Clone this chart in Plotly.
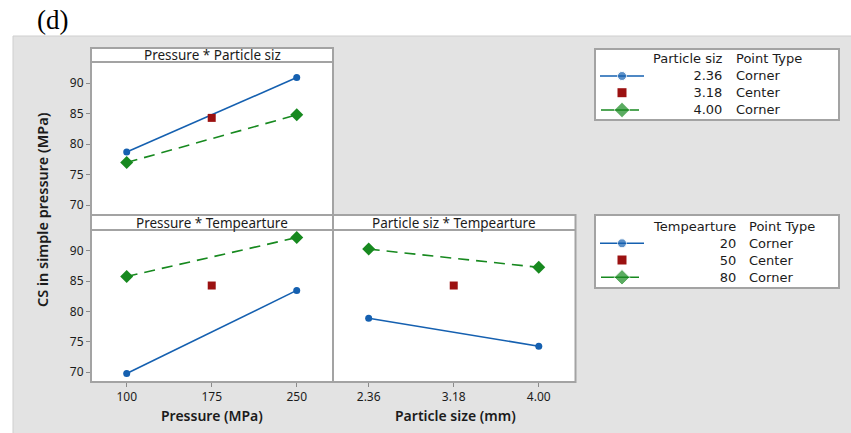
import plotly.graph_objects as go

W, H = 851, 433

# Factor levels
pressure_levels = [100, 250]
pressure_center = [175]
size_levels = [2.36, 4.00]
size_center = [3.18]

# Mean CS (MPa) for each interaction
ps_size236 = [78.7, 90.9]      # Pressure x Particle size, size 2.36
ps_size400 = [77.0, 84.8]      # Pressure x Particle size, size 4.00
pt_temp20 = [69.8, 83.5]       # Pressure x Temperature, T 20
pt_temp80 = [85.8, 92.2]       # Pressure x Temperature, T 80
st_temp20 = [78.9, 74.3]       # Particle size x Temperature, T 20
st_temp80 = [90.3, 87.3]       # Particle size x Temperature, T 80
center_value = [84.3]

y_ticks = [70, 75, 80, 85, 90]
p_ticks = [100, 175, 250]
s_ticks = [2.36, 3.18, 4.00]
s_ticklabels = ["2.36", "3.18", "4.00"]

legend1_header = ["Particle siz", "Point Type"]
legend1_levels = ["2.36", "3.18", "4.00"]
legend2_header = ["Tempearture", "Point Type"]
legend2_levels = ["20", "50", "80"]
point_types = ["Corner", "Center", "Corner"]

BLUE = "#1560b0"
GREEN = "#17891f"
RED = "#9b1111"
FRAME = "#a3a3a3"
BG = "#e3e3e3"
TXT = "#1b1b1b"
FONT = "Noto Sans"
LEG_FONT = "DejaVu Sans"


def px(x):
    return x / W


def py(y):
    return 1 - y / H


fig = go.Figure()


# Corner-point lines
def corner_pair(xv, ya, yb, xa, ya_ax):
    fig.add_trace(go.Scatter(
        x=xv, y=ya, mode="lines+markers", xaxis=xa, yaxis=ya_ax,
        line=dict(color=BLUE, width=1.6),
        marker=dict(symbol="circle", size=7, color=BLUE),
        showlegend=False, hoverinfo="x+y"))
    fig.add_trace(go.Scatter(
        x=xv, y=yb, mode="lines+markers", xaxis=xa, yaxis=ya_ax,
        line=dict(color=GREEN, width=1.6, dash="11px,7px"),
        marker=dict(symbol="diamond", size=10, color=GREEN),
        showlegend=False, hoverinfo="x+y"))


def center_point(xv, xa, ya_ax):
    fig.add_trace(go.Scatter(
        x=xv, y=center_value, mode="markers", xaxis=xa, yaxis=ya_ax,
        marker=dict(symbol="square", size=8, color=RED),
        showlegend=False, hoverinfo="x+y"))


corner_pair(pressure_levels, ps_size236, ps_size400, "x", "y")
center_point(pressure_center, "x", "y")
corner_pair(pressure_levels, pt_temp20, pt_temp80, "x2", "y2")
center_point(pressure_center, "x2", "y2")
corner_pair(size_levels, st_temp20, st_temp80, "x3", "y3")
center_point(size_center, "x3", "y3")

# Panel geometry in pixels
LX0, LX1, RX1 = 91, 333, 575.5
T_STRIP, T_PLOT0, T_PLOT1 = 48, 62, 215
B_STRIP, B_PLOT0, B_PLOT1 = 215, 230, 382

y_range = [68.4, 93.45]
p_range = [68.5, 282]
s_range = [2.016, 4.354]

axis_common = dict(showgrid=False, zeroline=False, showline=False,
                   tickfont=dict(family=FONT, size=12, color=TXT),
                   ticklen=4, tickcolor="#8a8a8a", tickwidth=1)

fig.update_layout(
    xaxis=dict(domain=[px(LX0), px(LX1)], range=p_range, anchor="y",
               showticklabels=False, ticks="", **axis_common),
    yaxis=dict(domain=[py(T_PLOT1), py(T_PLOT0)], range=y_range, anchor="x",
               tickvals=y_ticks, ticks="outside", **axis_common),
    xaxis2=dict(domain=[px(LX0), px(LX1)], range=p_range, anchor="y2",
                tickvals=p_ticks, ticks="outside", **axis_common),
    yaxis2=dict(domain=[py(B_PLOT1), py(B_PLOT0)], range=y_range, anchor="x2",
                tickvals=y_ticks, ticks="outside", **axis_common),
    xaxis3=dict(domain=[px(LX1), px(RX1)], range=s_range, anchor="y3",
                tickvals=s_ticks, ticktext=s_ticklabels, ticks="outside", **axis_common),
    yaxis3=dict(domain=[py(B_PLOT1), py(B_PLOT0)], range=y_range, anchor="x3",
                showticklabels=False, showgrid=False, zeroline=False, ticks=""),
    # overlay axis in pixel units for legend keys
    xaxis4=dict(domain=[0, 1], range=[0, W], visible=False, anchor="y4", fixedrange=True),
    yaxis4=dict(domain=[0, 1], range=[H, 0], visible=False, anchor="x4", fixedrange=True),
)

shapes = []
# grey backdrop
shapes.append(dict(type="rect", xref="paper", yref="paper",
                   x0=px(13), x1=px(W + 2), y0=py(H + 2), y1=py(36),
                   fillcolor=BG, line=dict(color="#cfcfcf", width=1), layer="below"))
# panel bodies (white) with strips
for x0, x1, ys, yp0, yp1 in [(LX0, LX1, T_STRIP, T_PLOT0, T_PLOT1),
                             (LX0, LX1, B_STRIP, B_PLOT0, B_PLOT1),
                             (LX1, RX1, B_STRIP, B_PLOT0, B_PLOT1)]:
    shapes.append(dict(type="rect", xref="paper", yref="paper",
                       x0=px(x0), x1=px(x1), y0=py(yp1), y1=py(ys),
                       fillcolor="white", line=dict(color=FRAME, width=2), layer="below"))
    shapes.append(dict(type="line", xref="paper", yref="paper",
                       x0=px(x0), x1=px(x1), y0=py(yp0), y1=py(yp0),
                       line=dict(color=FRAME, width=2), layer="below"))

annotations = []
strip_titles = [("Pressure * Particle siz", (LX0 + LX1) / 2, (T_STRIP + T_PLOT0) / 2),
                ("Pressure * Tempearture", (LX0 + LX1) / 2, (B_STRIP + B_PLOT0) / 2),
                ("Particle siz * Tempearture", (LX1 + RX1) / 2, (B_STRIP + B_PLOT0) / 2)]
for text, cx, cy in strip_titles:
    annotations.append(dict(text=text, x=px(cx), y=py(cy), xref="paper", yref="paper",
                            showarrow=False, xanchor="center", yanchor="middle",
                            font=dict(family=FONT, size=13.5, color=TXT)))

# axis titles
title_font = dict(family=FONT, size=14, color=TXT, weight=600)
annotations.append(dict(text="Pressure (MPa)", x=px(212), y=py(415), xref="paper", yref="paper",
                        showarrow=False, xanchor="center", yanchor="middle", font=title_font))
annotations.append(dict(text="Particle size (mm)", x=px(455), y=py(415), xref="paper", yref="paper",
                        showarrow=False, xanchor="center", yanchor="middle", font=title_font))
annotations.append(dict(text="CS in simple pressure (MPa)", x=px(42), y=py(210), xref="paper", yref="paper",
                        showarrow=False, xanchor="center", yanchor="middle", textangle=-90,
                        font=dict(family=FONT, size=14.5, color=TXT, weight=600)))
annotations.append(dict(text="(d)", x=px(52), y=py(20), xref="paper", yref="paper",
                        showarrow=False, xanchor="center", yanchor="middle",
                        font=dict(family="Liberation Serif", size=27, color="black")))


def draw_legend(box, header, levels, head_y, row_ys, num_right, type_left):
    x0, y0, x1, y1 = box
    shapes.append(dict(type="rect", xref="paper", yref="paper",
                       x0=px(x0), x1=px(x1), y0=py(y1), y1=py(y0),
                       fillcolor="white", line=dict(color=FRAME, width=2), layer="below"))
    lf = dict(family=LEG_FONT, size=13, color=TXT)
    mid = (head_y + row_ys[-1]) / 2
    # level column (right aligned) and point-type column (left aligned)
    annotations.append(dict(text="<br>".join([header[0]] + levels), x=px(num_right), y=py(mid),
                            xref="paper", yref="paper", showarrow=False, align="right",
                            xanchor="right", yanchor="middle", font=lf))
    annotations.append(dict(text="<br>".join([header[1]] + point_types), x=px(type_left), y=py(mid),
                            xref="paper", yref="paper", showarrow=False, align="left",
                            xanchor="left", yanchor="middle", font=lf))
    # keys: solid blue circle, red square, green diamond
    fig.add_trace(go.Scatter(x=[600, 622, 644], y=[row_ys[0]] * 3, xaxis="x4", yaxis="y4",
                             mode="lines+markers", line=dict(color=BLUE, width=1.6),
                             marker=dict(symbol="circle", size=[0, 9, 0], color=BLUE),
                             showlegend=False, hoverinfo="skip"))
    fig.add_trace(go.Scatter(x=[622], y=[row_ys[1]], xaxis="x4", yaxis="y4", mode="markers",
                             marker=dict(symbol="square", size=9, color=RED),
                             showlegend=False, hoverinfo="skip"))
    fig.add_trace(go.Scatter(x=[601, 622, 639], y=[row_ys[2]] * 3, xaxis="x4", yaxis="y4",
                             mode="lines+markers", line=dict(color=GREEN, width=1.6),
                             marker=dict(symbol="diamond", size=[0, 12, 0], color=GREEN),
                             showlegend=False, hoverinfo="skip"))


draw_legend((595, 49, 839, 120), legend1_header, legend1_levels, 59, [76, 92.7, 110], 725, 734)
draw_legend((595, 215, 839, 288), legend2_header, legend2_levels, 226, [243.3, 260, 277.3], 738, 747)

fig.update_layout(
    width=W, height=H, margin=dict(l=0, r=0, t=0, b=0),
    paper_bgcolor="white", plot_bgcolor="rgba(0,0,0,0)",
    shapes=shapes, annotations=annotations, showlegend=False,
    font=dict(family=FONT, color=TXT),
)

fig.write_html("out.html")
